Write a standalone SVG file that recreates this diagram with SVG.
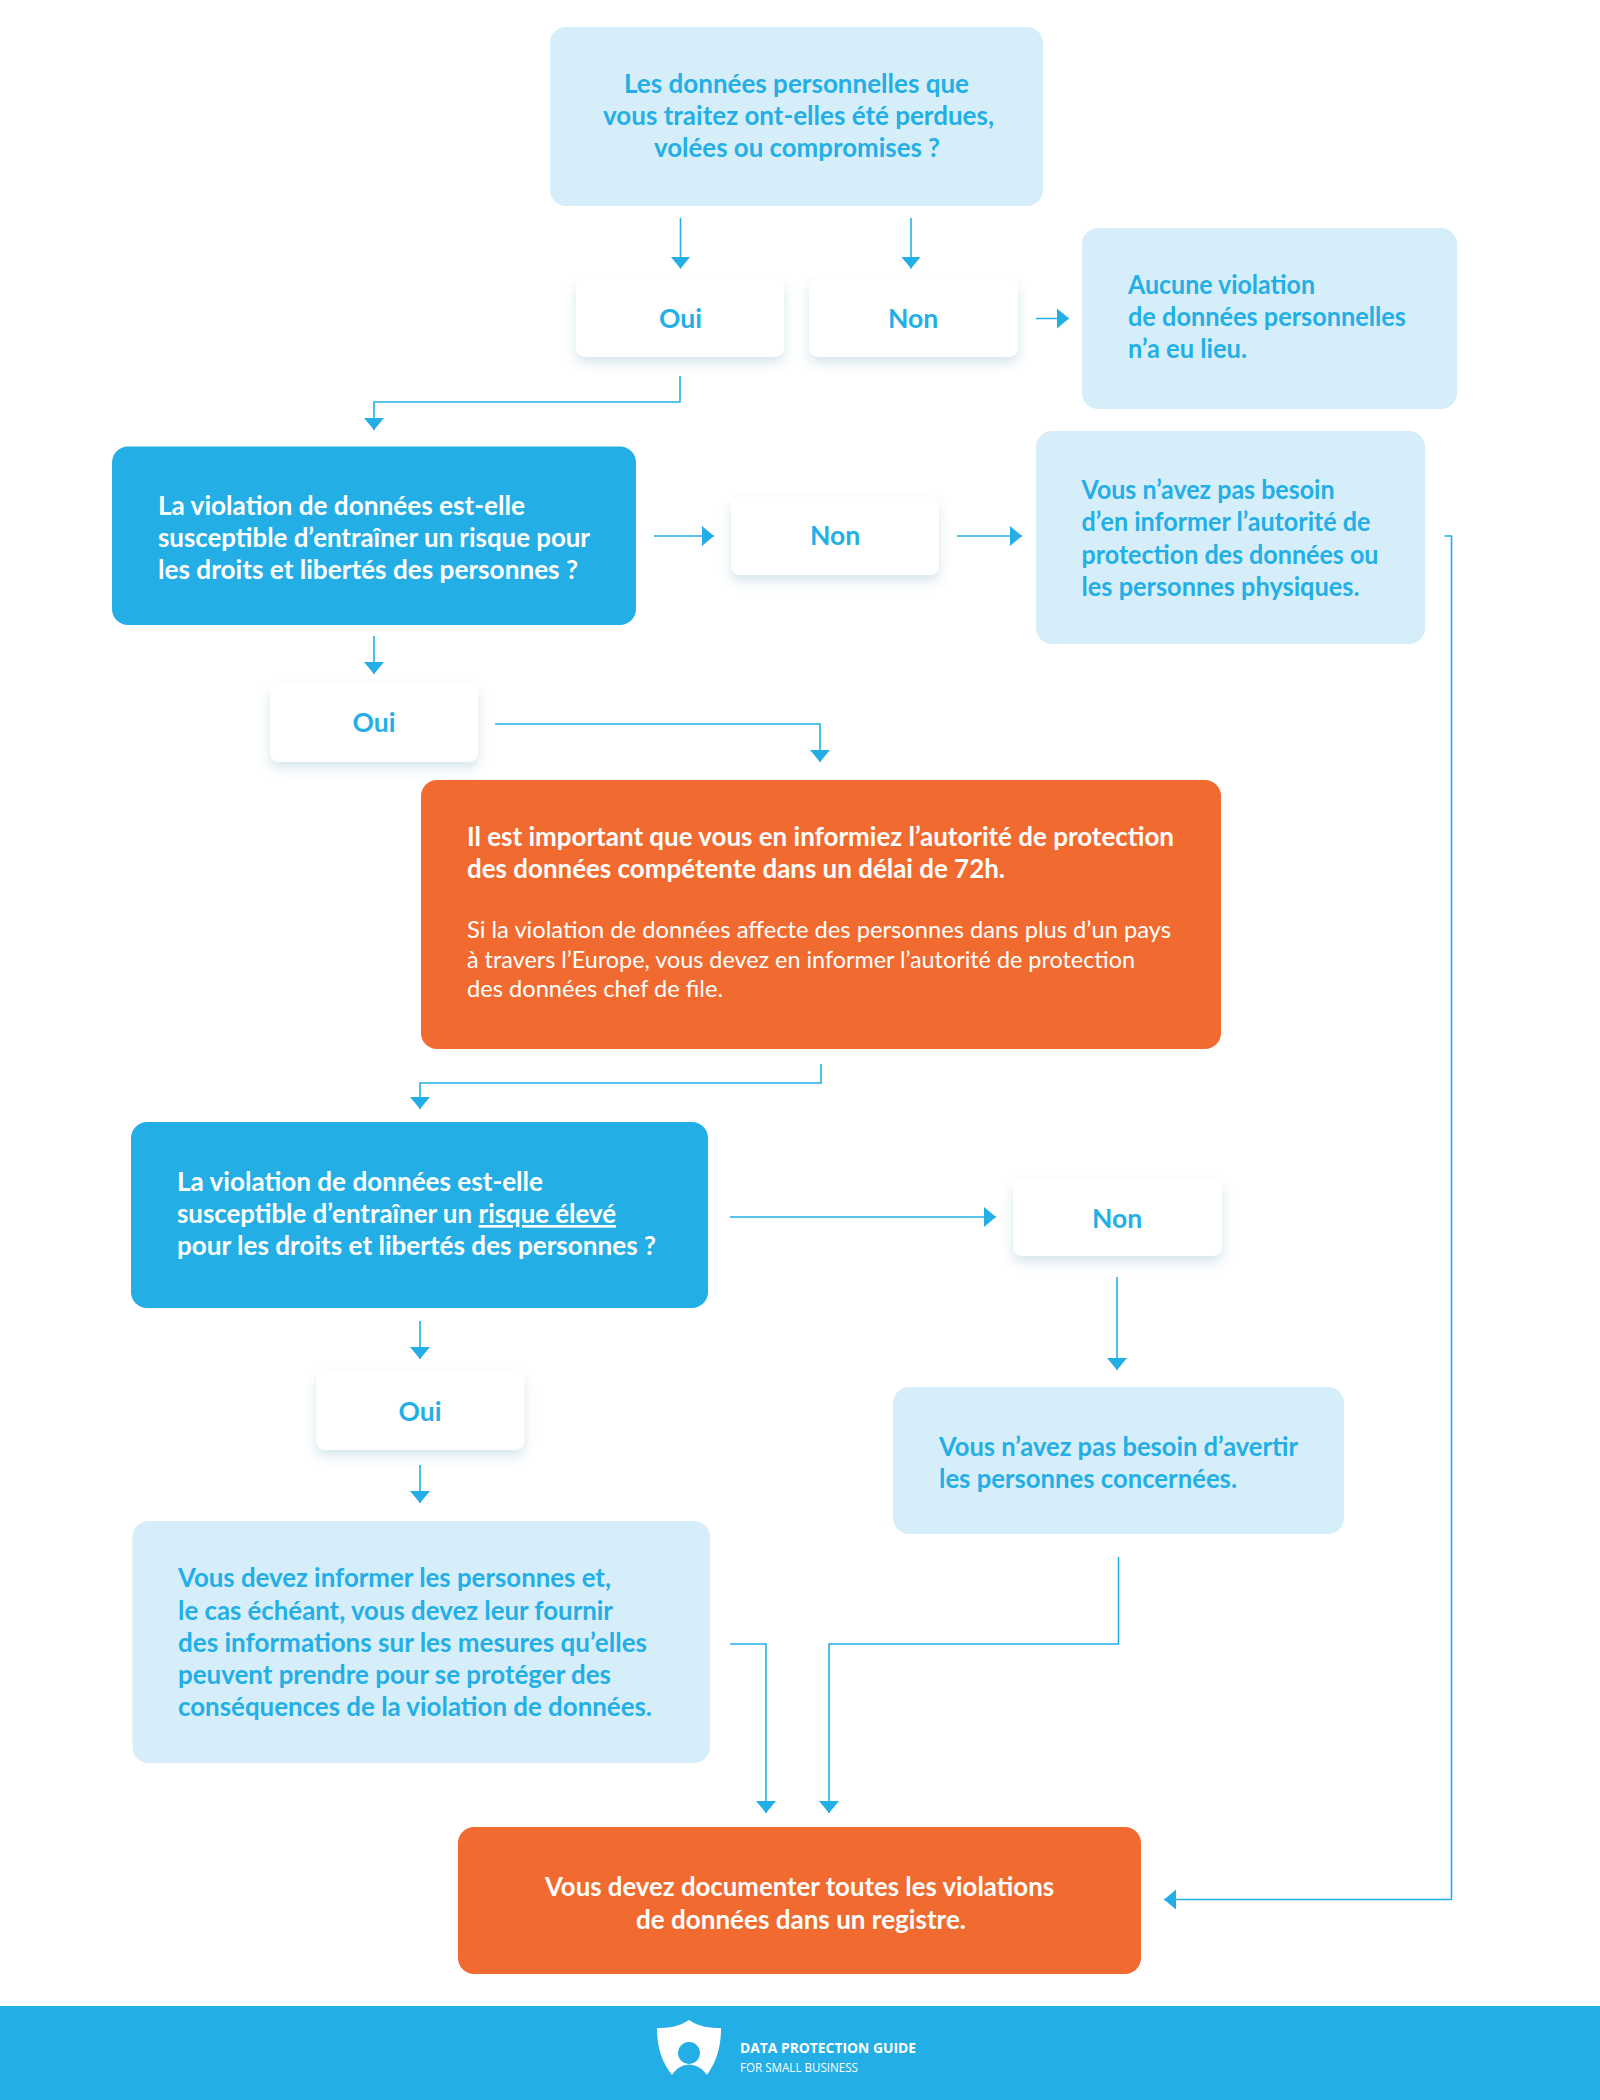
<svg xmlns="http://www.w3.org/2000/svg" width="1600" height="2100" viewBox="0 0 1600 2100">
<defs>
<style>
text{font-family:"Lato","Noto Sans","Liberation Sans",sans-serif;font-weight:700;font-size:26.5px}
.b{fill:#23afe6}.w{fill:#fff}
.m{text-anchor:middle}
.r{font-weight:400;font-size:23px}
.light{fill:#d6eef9}.blue{fill:#23afe6}.orange{fill:#f16b30}
.white{fill:#fff;filter:url(#sh)}
.c{fill:none;stroke:#23afe6;stroke-width:1.6;marker-end:url(#ah)}
</style>
<filter id="sh" x="-20%" y="-30%" width="140%" height="180%"><feDropShadow dx="0" dy="6" stdDeviation="6" flood-color="#4f93b5" flood-opacity="0.24"/></filter>
<marker id="ah" markerUnits="userSpaceOnUse" markerWidth="14" markerHeight="22" refX="12" refY="11" orient="auto"><path d="M0 1L12 11L0 21Z" fill="#23afe6"/></marker>
</defs>
<rect width="1600" height="2100" fill="#fff"/>
<g id="connectors">
<path class="c" d="M680.5 218V268.5"/>
<path class="c" d="M911 218V268.5"/>
<path class="c" d="M1036 318.5H1069"/>
<path class="c" d="M680 376V402H374V430"/>
<path class="c" d="M654 536H714"/>
<path class="c" d="M957 536H1022"/>
<path class="c" d="M1444.5 536H1451.5V1899.5H1164"/>
<path class="c" d="M374 636V674"/>
<path class="c" d="M495 724H820V762"/>
<path class="c" d="M821 1064V1083H420V1109"/>
<path class="c" d="M730 1217H996"/>
<path class="c" d="M420 1321V1359"/>
<path class="c" d="M420 1465V1503"/>
<path class="c" d="M1117 1277V1370"/>
<path class="c" d="M730 1644H766V1813"/>
<path class="c" d="M1118.5 1557V1644H829V1813"/>
</g>
<g id="n1"><rect class="light" x="550" y="27" width="493" height="179" rx="16"/>
<text class="b" x="624" y="93" textLength="345" lengthAdjust="spacingAndGlyphs">Les données personnelles que</text>
<text class="b" x="603" y="125" textLength="391" lengthAdjust="spacingAndGlyphs">vous traitez ont-elles été perdues,</text>
<text class="b" x="654" y="157" textLength="286" lengthAdjust="spacingAndGlyphs">volées ou compromises ?</text></g>
<g id="n2"><rect class="white" x="576" y="279" width="208" height="78" rx="9"/><text class="b m" x="680.5" y="327.5">Oui</text></g>
<g id="n3"><rect class="white" x="809" y="279" width="209" height="78" rx="9"/><text class="b m" x="913" y="327.5">Non</text></g>
<g id="n4"><rect class="light" x="1082" y="228" width="375" height="181" rx="16"/>
<text class="b" x="1128" y="294" textLength="187" lengthAdjust="spacingAndGlyphs">Aucune violation</text>
<text class="b" x="1128" y="326" textLength="278" lengthAdjust="spacingAndGlyphs">de données personnelles</text>
<text class="b" x="1128" y="358" textLength="119" lengthAdjust="spacingAndGlyphs">n’a eu lieu.</text></g>
<g id="n5"><rect class="blue" x="112" y="446.500" width="524" height="178.500" rx="16"/>
<text class="w" x="158" y="515" textLength="367" lengthAdjust="spacingAndGlyphs">La violation de données est-elle</text>
<text class="w" x="158" y="547" textLength="432" lengthAdjust="spacingAndGlyphs">susceptible d’entraîner un risque pour</text>
<text class="w" x="158" y="579" textLength="420" lengthAdjust="spacingAndGlyphs">les droits et libertés des personnes ?</text></g>
<g id="n6"><rect class="white" x="731" y="497" width="208" height="78" rx="9"/><text class="b m" x="835" y="545">Non</text></g>
<g id="n7"><rect class="light" x="1036" y="431" width="389" height="213" rx="16"/>
<text class="b" x="1081.500" y="499" textLength="253" lengthAdjust="spacingAndGlyphs">Vous n’avez pas besoin</text>
<text class="b" x="1081.500" y="531" textLength="289" lengthAdjust="spacingAndGlyphs">d’en informer l’autorité de</text>
<text class="b" x="1081.500" y="563.500" textLength="297" lengthAdjust="spacingAndGlyphs">protection des données ou</text>
<text class="b" x="1081.500" y="595.500" textLength="278" lengthAdjust="spacingAndGlyphs">les personnes physiques.</text></g>
<g id="n8"><rect class="white" x="270" y="684" width="208" height="78" rx="9"/><text class="b m" x="374" y="732">Oui</text></g>
<g id="n9"><rect class="orange" x="421" y="780" width="800" height="269" rx="16"/>
<text class="w" x="467" y="846" textLength="707" lengthAdjust="spacingAndGlyphs">Il est important que vous en informiez l’autorité de protection</text>
<text class="w" x="467" y="878" textLength="538" lengthAdjust="spacingAndGlyphs">des données compétente dans un délai de 72h.</text>
<text class="w r" x="467" y="938" textLength="704" lengthAdjust="spacingAndGlyphs">Si la violation de données affecte des personnes dans plus d’un pays</text>
<text class="w r" x="467" y="968" textLength="668" lengthAdjust="spacingAndGlyphs">à travers l’Europe, vous devez en informer l’autorité de protection</text>
<text class="w r" x="467" y="997" textLength="256" lengthAdjust="spacingAndGlyphs">des données chef de file.</text></g>
<g id="n10"><rect class="blue" x="131" y="1122" width="577" height="186" rx="16"/>
<text class="w" x="177" y="1191" textLength="366" lengthAdjust="spacingAndGlyphs">La violation de données est-elle</text>
<text class="w" x="177" y="1223" textLength="295" lengthAdjust="spacingAndGlyphs">susceptible d’entraîner un</text>
<text class="w" x="478.500" y="1223" textLength="137.500" lengthAdjust="spacingAndGlyphs" text-decoration="underline">risque élevé</text>
<text class="w" x="177" y="1255" textLength="479" lengthAdjust="spacingAndGlyphs">pour les droits et libertés des personnes ?</text></g>
<g id="n11"><rect class="white" x="1013" y="1179" width="209" height="77" rx="9"/><text class="b m" x="1117" y="1228">Non</text></g>
<g id="n12"><rect class="white" x="316" y="1372" width="208.500" height="78" rx="9"/><text class="b m" x="420" y="1421">Oui</text></g>
<g id="n13"><rect class="light" x="893" y="1387" width="451" height="147" rx="16"/>
<text class="b" x="939" y="1455.500" textLength="359" lengthAdjust="spacingAndGlyphs">Vous n’avez pas besoin d’avertir</text>
<text class="b" x="939" y="1487.500" textLength="298" lengthAdjust="spacingAndGlyphs">les personnes concernées.</text></g>
<g id="n14"><rect class="light" x="132.500" y="1521" width="577.500" height="242" rx="16"/>
<text class="b" x="178" y="1587" textLength="433" lengthAdjust="spacingAndGlyphs">Vous devez informer les personnes et,</text>
<text class="b" x="178" y="1620" textLength="435" lengthAdjust="spacingAndGlyphs">le cas échéant, vous devez leur fournir</text>
<text class="b" x="178" y="1652" textLength="469" lengthAdjust="spacingAndGlyphs">des informations sur les mesures qu’elles</text>
<text class="b" x="178" y="1684" textLength="433" lengthAdjust="spacingAndGlyphs">peuvent prendre pour se protéger des</text>
<text class="b" x="178" y="1716" textLength="474" lengthAdjust="spacingAndGlyphs">conséquences de la violation de données.</text></g>
<g id="n15"><rect class="orange" x="458" y="1827" width="683" height="147" rx="16"/>
<text class="w" x="545" y="1895.500" textLength="509" lengthAdjust="spacingAndGlyphs">Vous devez documenter toutes les violations</text>
<text class="w" x="636" y="1928.500" textLength="330" lengthAdjust="spacingAndGlyphs">de données dans un registre.</text></g>
<g id="footer"><rect class="blue" x="0" y="2006" width="1600" height="94"/>
<path class="w" fill-rule="evenodd" d="M689 2020C699 2027 710 2028 721 2028C721 2046 717 2061 707 2075C697 2061 681 2061 672 2075C661 2061 657 2046 657 2028C668 2028 679 2027 689 2020ZM689 2042a11 11 0 1 0 0.01 0Z"/>
<text class="w" x="740" y="2053" textLength="176" lengthAdjust="spacingAndGlyphs" style="font-family:'Open Sans','Noto Sans',sans-serif;font-size:14.500px">DATA PROTECTION GUIDE</text>
<text class="w" x="740" y="2072" textLength="118" lengthAdjust="spacingAndGlyphs" style="font-family:'Open Sans','Noto Sans',sans-serif;font-size:13px;font-weight:400">FOR SMALL BUSINESS</text></g>
</svg>
